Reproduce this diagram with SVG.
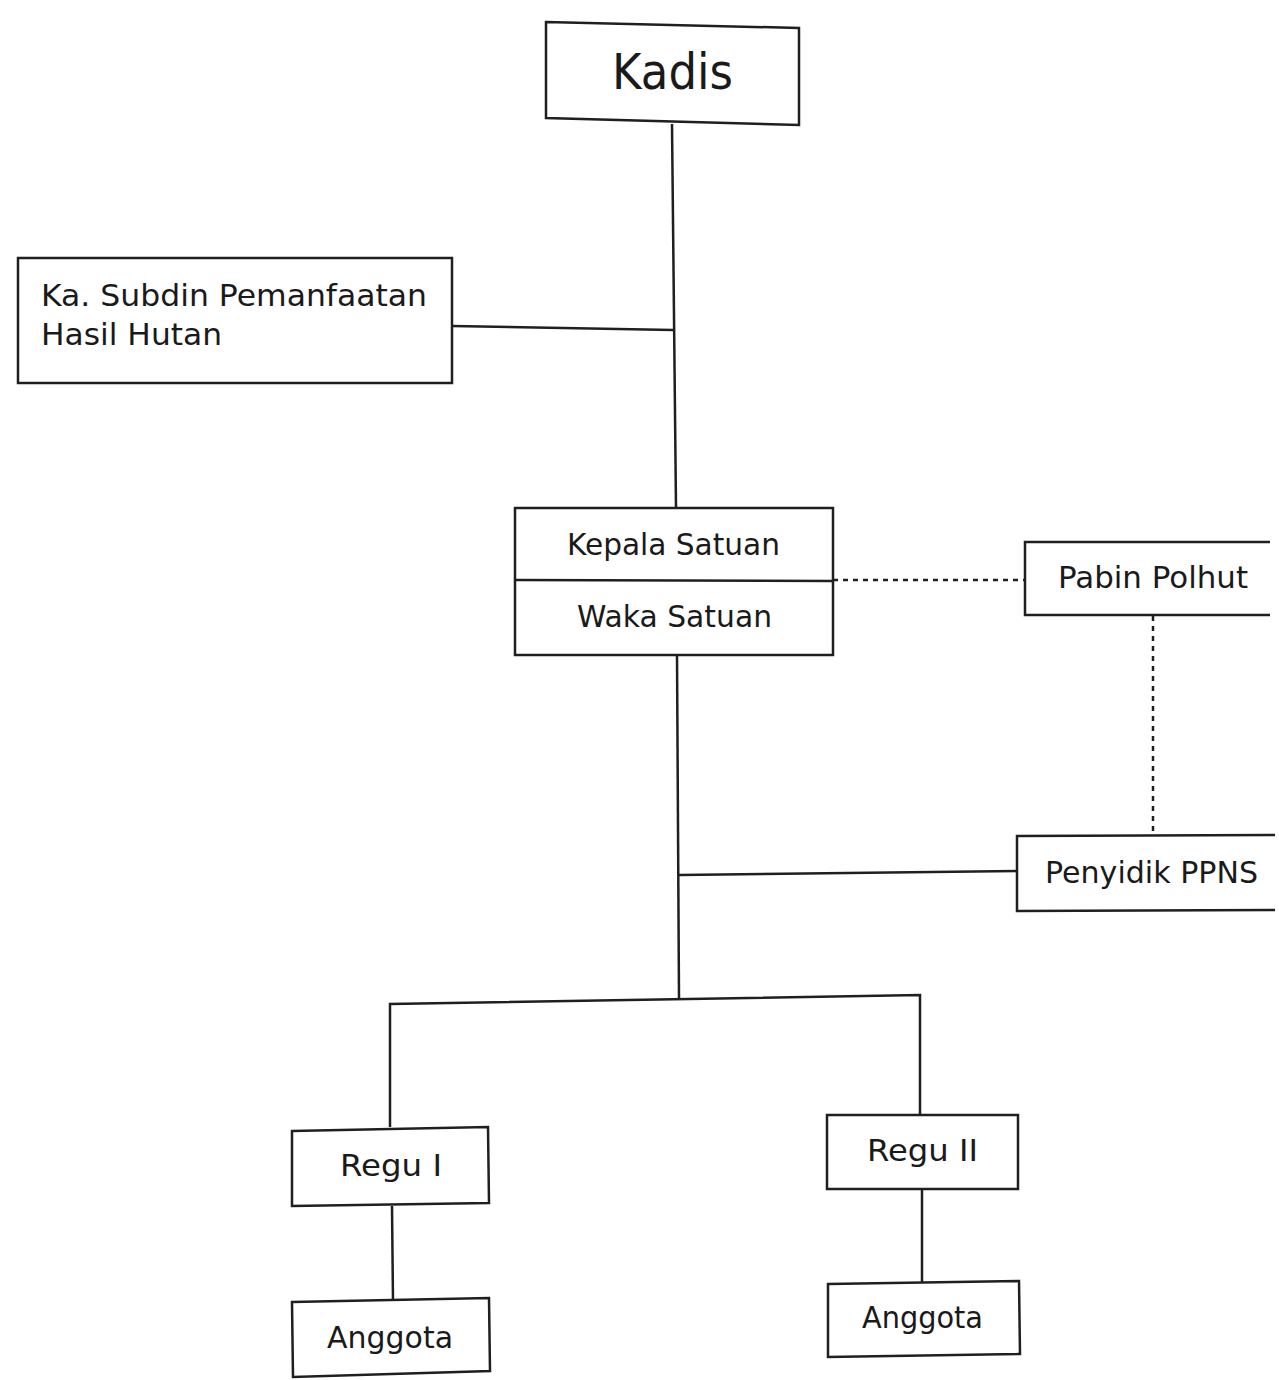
<svg xmlns="http://www.w3.org/2000/svg" width="1279" height="1380" viewBox="0 0 1279 1380">
<style>
.box{fill:none;stroke:#1f1f1f;stroke-width:2.5}
.ln{fill:none;stroke:#1f1f1f;stroke-width:2.5}
.dot{fill:none;stroke:#1f1f1f;stroke-width:2.5;stroke-dasharray:5 5}
text{font-family:"DejaVu Sans","Noto Sans",sans-serif;fill:#1a1a1a}
.t{font-size:31px}
</style>
<rect width="1279" height="1380" fill="#ffffff"/>
<g id="connectors">
<polyline class="ln" points="672,124 676,508"/>
<line class="ln" x1="452" y1="326" x2="673" y2="330"/>
<polyline class="ln" points="677,655 679,999"/>
<line class="ln" x1="679" y1="875" x2="1017" y2="871"/>
<polyline class="ln" points="390,1127 390,1004 920,995 920,1115"/>
<line class="ln" x1="392" y1="1206" x2="393" y2="1301"/>
<line class="ln" x1="922" y1="1189" x2="922" y2="1283"/>
<line class="dot" x1="833" y1="580" x2="1025" y2="580"/>
<line class="dot" x1="1153" y1="616" x2="1153" y2="835"/>
</g>
<g id="kadis">
<polygon class="box" points="546,22 799,28 799,125 546,118"/>
<text x="612" y="89" font-size="50" textLength="121" lengthAdjust="spacingAndGlyphs">Kadis</text>
</g>
<g id="kasubdin">
<rect class="box" x="18" y="258" width="434" height="125"/>
<text class="t" x="41" y="306" textLength="386" lengthAdjust="spacingAndGlyphs">Ka. Subdin Pemanfaatan</text>
<text class="t" x="41" y="345" textLength="181" lengthAdjust="spacingAndGlyphs">Hasil Hutan</text>
</g>
<g id="kepala-waka">
<rect class="box" x="515" y="508" width="318" height="147"/>
<line class="ln" x1="515" y1="580" x2="833" y2="581"/>
<text class="t" x="567" y="555" textLength="213" lengthAdjust="spacingAndGlyphs">Kepala Satuan</text>
<text class="t" x="577" y="627" textLength="195" lengthAdjust="spacingAndGlyphs">Waka Satuan</text>
</g>
<g id="pabin-polhut">
<polyline class="box" points="1270,542 1025,542 1025,615 1270,615"/>
<text class="t" x="1058" y="588" textLength="190" lengthAdjust="spacingAndGlyphs">Pabin Polhut</text>
</g>
<g id="penyidik-ppns">
<polyline class="box" points="1275,835 1017,836 1017,911 1275,910"/>
<text class="t" x="1045" y="883" textLength="213" lengthAdjust="spacingAndGlyphs">Penyidik PPNS</text>
</g>
<g id="regu1">
<polygon class="box" points="292,1131 488,1127 489,1203 292,1206"/>
<text class="t" x="340" y="1176" textLength="102" lengthAdjust="spacingAndGlyphs">Regu I</text>
</g>
<g id="regu2">
<rect class="box" x="827" y="1115" width="191" height="74"/>
<text class="t" x="867" y="1161" textLength="111" lengthAdjust="spacingAndGlyphs">Regu II</text>
</g>
<g id="anggota1">
<polygon class="box" points="292,1302 489,1298 490,1371 293,1377"/>
<text class="t" x="327" y="1348" textLength="126" lengthAdjust="spacingAndGlyphs">Anggota</text>
</g>
<g id="anggota2">
<polygon class="box" points="828,1284 1019,1281 1020,1354 828,1357"/>
<text class="t" x="862" y="1328" textLength="121" lengthAdjust="spacingAndGlyphs">Anggota</text>
</g>
</svg>
